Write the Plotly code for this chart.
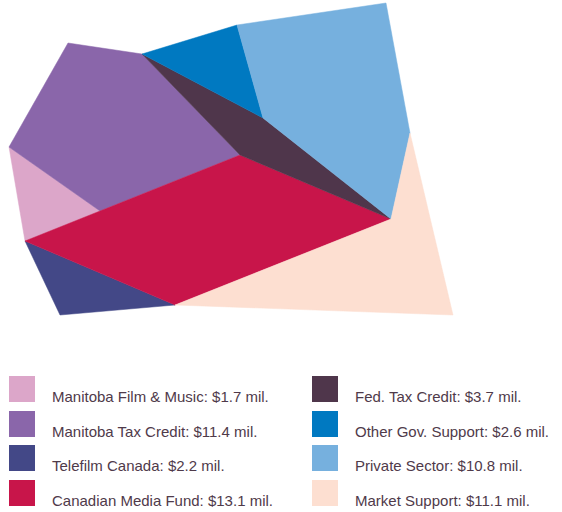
import plotly.graph_objects as go

# ---- data ----
categories = ["Manitoba Film & Music", "Manitoba Tax Credit", "Telefilm Canada",
              "Canadian Media Fund", "Fed. Tax Credit", "Other Gov. Support",
              "Private Sector", "Market Support"]
values = [1.7, 11.4, 2.2, 13.1, 3.7, 2.6, 10.8, 11.1]
colors = ["#dca6c9", "#8a66aa", "#434887", "#c8154a",
          "#4f364b", "#0079c1", "#76b0de", "#fddfd1"]

# ---- layout geometry of the Voronoi-style treemap (pixel space) ----
V = {
    "a": (9, 147), "b": (68, 43), "c": (142, 54), "d": (237, 25),
    "e": (386, 3), "f": (410, 133), "g": (453, 315), "h": (175, 305),
    "i": (60, 315), "j": (25, 241), "k": (100, 211), "l": (240, 155),
    "m": (263, 118), "n": (391, 219),
}
cells = [
    ["a", "k", "j"],
    ["a", "b", "c", "l", "k"],
    ["j", "h", "i"],
    ["j", "k", "l", "n", "h"],
    ["c", "m", "n", "l"],
    ["c", "d", "m"],
    ["d", "e", "f", "n", "m"],
    ["n", "f", "g", "h"],
]

fig = go.Figure()
for cat, val, col, cell in zip(categories, values, colors, cells):
    xs = [V[p][0] for p in cell] + [V[cell[0]][0]]
    ys = [V[p][1] for p in cell] + [V[cell[0]][1]]
    fig.add_trace(go.Scatter(x=xs, y=ys, mode="lines", fill="toself",
                             fillcolor=col, line=dict(color=col, width=0.5),
                             hoverinfo="text", text=f"{cat}: ${val} mil.",
                             showlegend=False))

# ---- legend (two columns of four) ----
col_x = [22, 325]
text_x = [50, 353]
row_y = [389, 424, 458, 493]
for idx, (cat, val, col) in enumerate(zip(categories, values, colors)):
    c, r = divmod(idx, 4)
    fig.add_trace(go.Scatter(x=[col_x[c]], y=[row_y[r]], mode="markers",
                             marker=dict(symbol="square", size=26, color=col,
                                         line=dict(width=0)),
                             hoverinfo="skip", showlegend=False))
    fig.add_annotation(x=text_x[c], y=row_y[r] + 7, xref="x", yref="y",
                       text=f"{cat}: ${val} mil.", showarrow=False,
                       xanchor="left", yanchor="middle",
                       font=dict(family="Liberation Sans, Arial, sans-serif",
                                 size=15, color="#4f3a4a"))

fig.update_layout(
    width=562, height=512,
    margin=dict(l=0, r=0, t=0, b=0),
    paper_bgcolor="white", plot_bgcolor="white",
    xaxis=dict(range=[0, 562], visible=False, fixedrange=True),
    yaxis=dict(range=[512, 0], visible=False, fixedrange=True),
    showlegend=False,
)
fig.write_html("out.html", config={"displayModeBar": False},
               post_script="document.body.style.margin='0';document.body.style.overflow='hidden';")
